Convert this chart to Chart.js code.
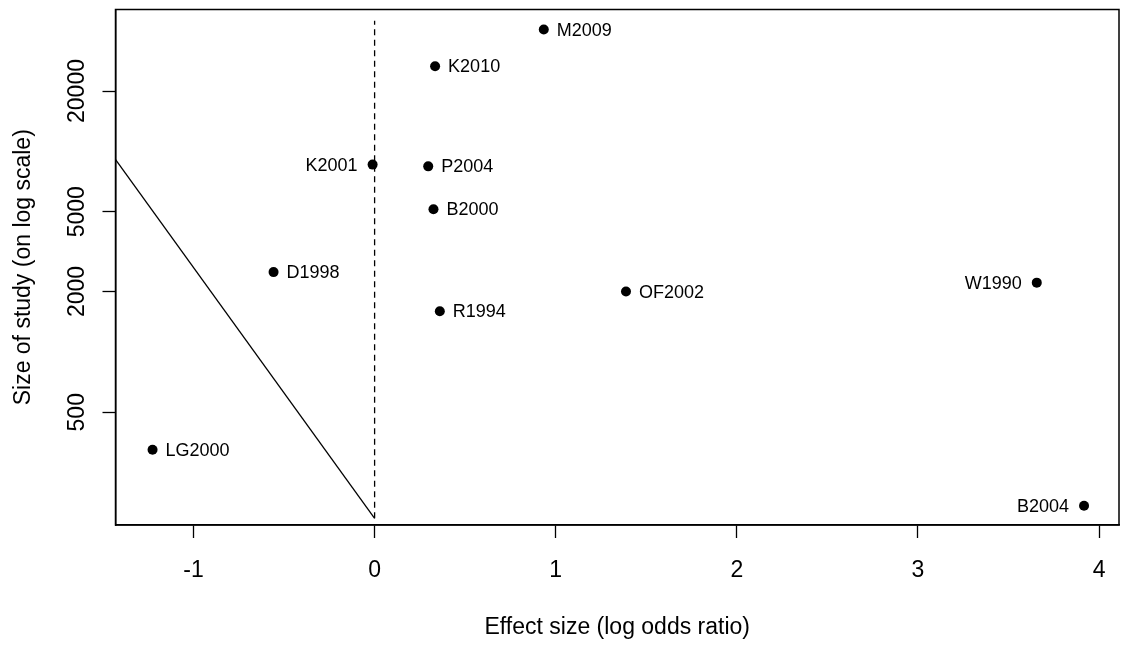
<!DOCTYPE html>
<html>
<head>
<meta charset="utf-8">
<script src="https://cdn.jsdelivr.net/npm/chart.js@4.4.1/dist/chart.umd.min.js"></script>
<style>
  html, body { margin: 0; padding: 0; background: #fff; }
  #wrap { width: 1124px; height: 646px; }
</style>
</head>
<body>
<div id="wrap"><canvas id="funnel" width="1124" height="646"></canvas></div>
<script>
// study data
const studies = ['M2009', 'K2010', 'K2001', 'P2004', 'B2000', 'D1998', 'R1994', 'OF2002', 'W1990', 'LG2000', 'B2004'];
const effect = [0.934, 0.334, -0.011, 0.296, 0.325, -0.558, 0.360, 1.388, 3.656, -1.226, 3.917];
const size = [40500, 26600, 8590, 8420, 5150, 2500, 1595, 2000, 2215, 325, 171];

// reference lines
const boundX = [-1.43, 0];
const boundY = [9100, 148];
const nullX = [0, 0];
const nullY = [148, 44800];

const xTicks = [-1, 0, 1, 2, 3, 4];
const yTicks = [500, 2000, 5000, 20000];

const FONT = "'Liberation Sans', Arial, Helvetica, sans-serif";
const leftLabelled = new Set(['K2001', 'W1990', 'B2004']);

const pts = (xs, ys) => xs.map((x, i) => ({ x: x, y: ys[i] }));

// box on top/right, rotated y labels, study names
const rPlot = {
  id: 'rPlot',
  afterDraw(chart) {
    const ctx = chart.ctx;
    const a = chart.chartArea;
    const ys = chart.scales.y;
    ctx.save();
    ctx.strokeStyle = '#000';
    ctx.lineWidth = 1.5;
    ctx.strokeRect(a.left, a.top, a.right - a.left, a.bottom - a.top);

    ctx.fillStyle = '#000';
    ctx.font = '23px ' + FONT;
    ctx.textAlign = 'center';
    ctx.textBaseline = 'middle';
    yTicks.forEach(v => {
      const py = ys.getPixelForValue(v);
      ctx.save();
      ctx.translate(78, py);
      ctx.rotate(-Math.PI / 2);
      ctx.fillText(String(v), 0, 0);
      ctx.restore();
    });

    const meta = chart.getDatasetMeta(0);
    ctx.font = '18px ' + FONT;
    meta.data.forEach((el, i) => {
      const name = studies[i];
      if (leftLabelled.has(name)) {
        ctx.textAlign = 'right';
        ctx.fillText(name, el.x - 15, el.y + 1);
      } else {
        ctx.textAlign = 'left';
        ctx.fillText(name, el.x + 13, el.y + 1);
      }
    });
    ctx.restore();
  }
};

new Chart(document.getElementById('funnel').getContext('2d'), {
  type: 'scatter',
  data: {
    datasets: [
      {
        data: pts(effect, size),
        backgroundColor: '#000',
        borderWidth: 0,
        pointRadius: 5,
        pointHoverRadius: 5
      },
      {
        data: pts(boundX, boundY),
        showLine: true,
        borderColor: '#000',
        borderWidth: 1.3,
        pointRadius: 0
      },
      {
        data: pts(nullX, nullY),
        showLine: true,
        borderColor: '#000',
        borderWidth: 1.3,
        borderDash: [6, 4.5],
        pointRadius: 0
      }
    ]
  },
  options: {
    responsive: false,
    animation: false,
    layout: { padding: { top: 9.5, right: 2.3, left: 0, bottom: 0 } },
    plugins: {
      legend: { display: false },
      tooltip: { enabled: false }
    },
    scales: {
      x: {
        type: 'linear',
        min: -1.4306,
        max: 4.11,
        afterBuildTicks: s => { s.ticks = xTicks.map(v => ({ value: v })); },
        afterFit: s => { s.height = 121; s.paddingLeft = 0; s.paddingRight = 0; },
        grid: { drawOnChartArea: false, drawTicks: true, tickLength: 13, color: '#000', tickWidth: 1.3 },
        border: { display: true, color: '#000', width: 1.5 },
        ticks: {
          color: '#000',
          font: { family: FONT, size: 23 },
          padding: 19,
          maxRotation: 0,
          callback: v => String(v)
        },
        title: {
          display: true,
          text: 'Effect size (log odds ratio)',
          color: '#000',
          font: { family: FONT, size: 23 },
          padding: { top: 0, bottom: 5 }
        }
      },
      y: {
        type: 'logarithmic',
        min: 137,
        max: 51000,
        afterBuildTicks: s => { s.ticks = yTicks.map(v => ({ value: v })); },
        afterFit: s => { s.width = 115.5; s.paddingTop = 0; s.paddingBottom = 0; },
        grid: { drawOnChartArea: false, drawTicks: true, tickLength: 13, color: '#000', tickWidth: 1.3 },
        border: { display: true, color: '#000', width: 1.5 },
        ticks: { display: false },
        title: {
          display: true,
          text: 'Size of study (on log scale)',
          color: '#000',
          font: { family: FONT, size: 23 },
          padding: { top: 10, bottom: 0 }
        }
      }
    }
  },
  plugins: [rPlot]
});
</script>
</body>
</html>
